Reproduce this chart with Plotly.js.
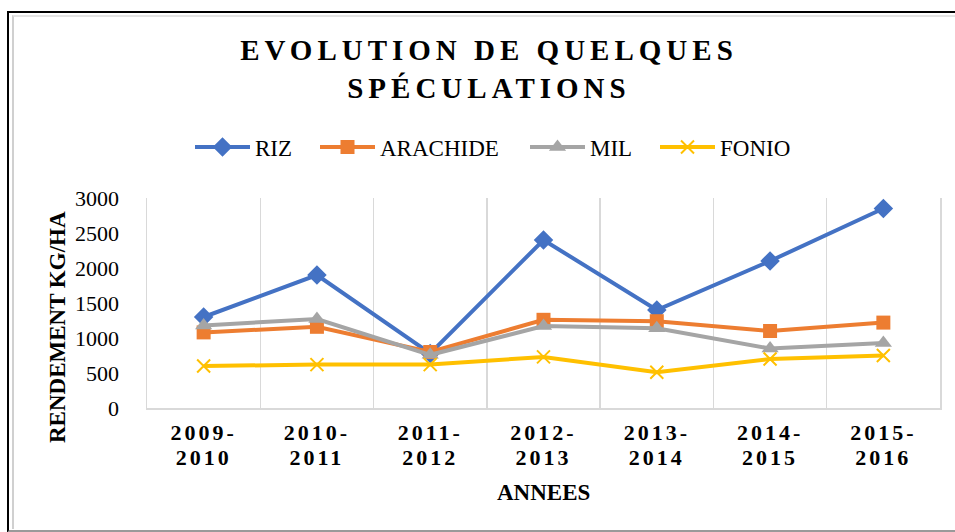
<!DOCTYPE html>
<html>
<head>
<meta charset="utf-8">
<script src="https://cdn.plot.ly/plotly-3.0.1.min.js"></script>
<style>
  html, body { margin: 0; padding: 0; background: #fff; }
  #wrap { position: relative; width: 955px; height: 532px; overflow: hidden; }
  #frameOuter { position: absolute; left: 7px; top: 11px; width: 960px; height: 517px;
    border-left: 2px solid #000; border-top: 2px solid #000; border-bottom: 3px solid #9a9a9a; }
  #frameInner { position: absolute; left: 12px; top: 15px; width: 960px; height: 512px;
    border-left: 2px solid #d0d0d0; border-top: 2px solid #e4e4e4; }
  #chart { position: absolute; left: 0; top: 0; width: 955px; height: 532px; }
  .gtitle { letter-spacing: 5px; }
  .xtick text { letter-spacing: 3px; }
</style>
</head>
<body>
<div id="wrap">
  <div id="frameOuter"></div>
  <div id="frameInner"></div>
  <div id="chart"></div>
</div>
<script>
const categories = ["2009-<br>2010", "2010-<br>2011", "2011-<br>2012", "2012-<br>2013", "2013-<br>2014", "2014-<br>2015", "2015-<br>2016"];
const riz      = [1300, 1900, 780, 2400, 1400, 2100, 2850];
const arachide = [1080, 1160, 800, 1260, 1240, 1100, 1220];
const mil      = [1180, 1270, 760, 1170, 1140, 850, 930];
const fonio    = [600, 620, 620, 730, 510, 700, 750];
const seriesNames = ["RIZ", "ARACHIDE", "MIL", "FONIO"];

const serif = "'Liberation Serif', 'Times New Roman', serif";

function series(name, y, color, symbol, size, legendId) {
  return {
    type: "scatter", mode: "lines+markers", name: name, legend: legendId,
    x: categories, y: y,
    line: { color: color, width: 4 },
    marker: { symbol: symbol, size: size, color: color, line: { width: 0 } }
  };
}

const data = [
  series(seriesNames[0], riz, "#4472C4", "diamond", 15, "legend"),
  series(seriesNames[1], arachide, "#ED7D31", "square", 14, "legend2"),
  series(seriesNames[2], mil, "#A5A5A5", "triangle-up", 15, "legend3"),
  { type: "scatter", mode: "lines+markers", name: seriesNames[3], legend: "legend4",
    x: categories, y: fonio,
    line: { color: "#FFC000", width: 4 },
    marker: { symbol: "x-thin", size: 13, color: "#FFC000", line: { width: 2, color: "#FFC000" } } }
];

function legendAt(px) {
  return {
    orientation: "h", xref: "container", yref: "container",
    x: px / 955, xanchor: "left", y: 1 - 147 / 532, yanchor: "middle",
    font: { family: serif, size: 23, color: "#000" },
    bgcolor: "rgba(0,0,0,0)", itemwidth: 55, borderwidth: 0
  };
}

const layout = {
  width: 955, height: 532,
  paper_bgcolor: "rgba(0,0,0,0)", plot_bgcolor: "rgba(0,0,0,0)",
  margin: { l: 147, r: 15, t: 198, b: 124 },
  font: { family: serif, color: "#000", size: 22 },
  title: {
    text: "EVOLUTION DE QUELQUES<br>SPÉCULATIONS",
    font: { family: serif, size: 29, weight: "bold", color: "#000" },
    x: 0.512, xanchor: "center", xref: "container",
    y: 1 - 60 / 532, yanchor: "top", yref: "container"
  },
  showlegend: true,
  legend: legendAt(190),
  legend2: legendAt(315),
  legend3: legendAt(525),
  legend4: legendAt(655),
  xaxis: {
    type: "category", range: [-0.5, 6.5], tickson: "boundaries",
    showgrid: true, gridcolor: "#d9d9d9", gridwidth: 1.5,
    showline: true, linecolor: "#d9d9d9", linewidth: 1.5,
    ticks: "", tickfont: { family: serif, size: 22, weight: "bold", color: "#000" },
    ticklabelstandoff: 4, zeroline: false, fixedrange: true
  },
  yaxis: {
    range: [0, 3000], tickvals: [0, 500, 1000, 1500, 2000, 2500, 3000],
    showgrid: false, zeroline: false,
    showline: true, mirror: true, linecolor: "#d9d9d9", linewidth: 1.5,
    ticks: "", ticklabelstandoff: 22,
    tickfont: { family: serif, size: 22, color: "#000" }, fixedrange: true
  },
  annotations: [
    { text: "RENDEMENT KG/HA", textangle: -90, showarrow: false,
      xref: "paper", yref: "paper", x: (57 - 147) / 793, y: (408 - 327) / 210,
      xanchor: "center", yanchor: "middle",
      font: { family: serif, size: 23, weight: "bold", color: "#000" } },
    { text: "ANNEES", showarrow: false,
      xref: "paper", yref: "paper", x: (543 - 147) / 793, y: (408 - 492) / 210,
      xanchor: "center", yanchor: "middle",
      font: { family: serif, size: 23, weight: "bold", color: "#000" } }
  ]
};

Plotly.newPlot("chart", data, layout, { displayModeBar: false, staticPlot: true }).then(function (gd) {
  // slightly tighter line spacing for the two-line category labels
  gd.querySelectorAll(".xtick text tspan.line").forEach(function (t) {
    if (t.getAttribute("dy") && t.getAttribute("dy") !== "0em") t.setAttribute("dy", "1.12em");
  });
});
</script>
</body>
</html>
